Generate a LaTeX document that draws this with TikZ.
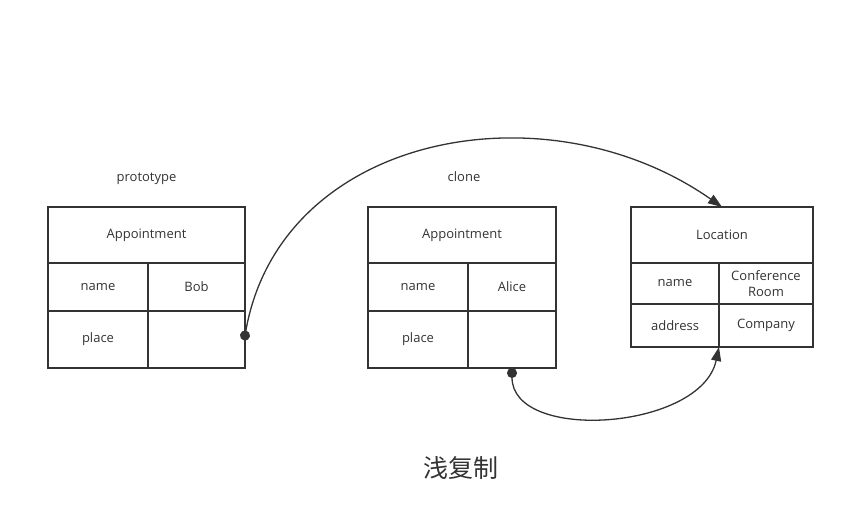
\documentclass[tikz,border=0pt]{standalone}
\usepackage{fontspec}
\setmainfont{Open Sans}
\newfontfamily\cjk{Noto Sans CJK SC}
\usepackage{xcolor}
\usepackage{tikz}
\usetikzlibrary{arrows.meta,positioning}
\tikzset{
  font={\fontsize{13pt}{16pt}\selectfont}
}
\definecolor{colorD}{RGB}{51,51,51}
\tikzstyle{line}=[draw=colorD, line width=1.3pt, {Circle[length=10pt]}-{Triangle[length=14pt,width=10pt]}]
\tikzstyle{cell}=[draw=colorD, line width=1.5pt, text=colorD, inner sep=0pt, outer sep=0pt, align=center]
\tikzstyle{hdr}=[cell, minimum height=56pt]
\tikzstyle{lab}=[text=colorD, anchor=base]

\begin{document}
\begin{tikzpicture}[x=1pt, y=1pt, node distance=0pt]
\useasboundingbox (0,0) rectangle (845,525);

%%% prototype
\node[hdr, minimum width=197pt, anchor=north west] (hdr1) at (48,318) {Appointment};
\node[cell, minimum width=100pt, minimum height=48pt, below right=0pt of hdr1.south west] (name1) {name};
\node[cell, minimum width=97pt, minimum height=48pt, right=0pt of name1] (val1) {Bob};
\node[cell, minimum width=100pt, minimum height=57pt, below right=0pt of name1.south west] (place1) {place};
\node[cell, minimum width=97pt, minimum height=57pt, right=0pt of place1] (pv1) {};

%%% clone
\node[hdr, minimum width=188pt, right=123pt of hdr1] (hdr2) {Appointment};
\node[cell, minimum width=100pt, minimum height=48pt, below right=0pt of hdr2.south west] (name2) {name};
\node[cell, minimum width=88pt, minimum height=48pt, right=0pt of name2] (val2) {Alice};
\node[cell, minimum width=100pt, minimum height=57pt, below right=0pt of name2.south west] (place2) {place};
\node[cell, minimum width=88pt, minimum height=57pt, right=0pt of place2] (pv2) {};

%%% location
\node[hdr, minimum width=182pt, right=75pt of hdr2] (hdr3) {Location};
\node[cell, minimum width=88pt, minimum height=41pt, below right=0pt of hdr3.south west] (name3) {name};
\node[cell, minimum width=94pt, minimum height=41pt, right=0pt of name3] (val3) {Conference\\Room};
\node[cell, minimum width=88pt, minimum height=43pt, below right=0pt of name3.south west] (addr3) {address};
\node[cell, minimum width=94pt, minimum height=43pt, right=0pt of addr3] (comp3) {Company};

\node[lab] (proto) at ([yshift=25pt]hdr1.north) {prototype};
\node[lab] (clone) at ([xshift=2pt,yshift=25pt]hdr2.north) {clone};
\node[lab, anchor=center, font=\cjk\fontsize{25pt}{30pt}\selectfont] (title) at (461,57) {浅复制};

\draw[line, shorten <=-5pt] ([yshift=4pt]pv1.east) .. controls +(80:205) and +(145:215) .. (hdr3.north);
\draw[line] (pv2.south) .. controls +(0,-75) and +(258:85) .. (addr3.south east);

\end{tikzpicture}
\end{document}
